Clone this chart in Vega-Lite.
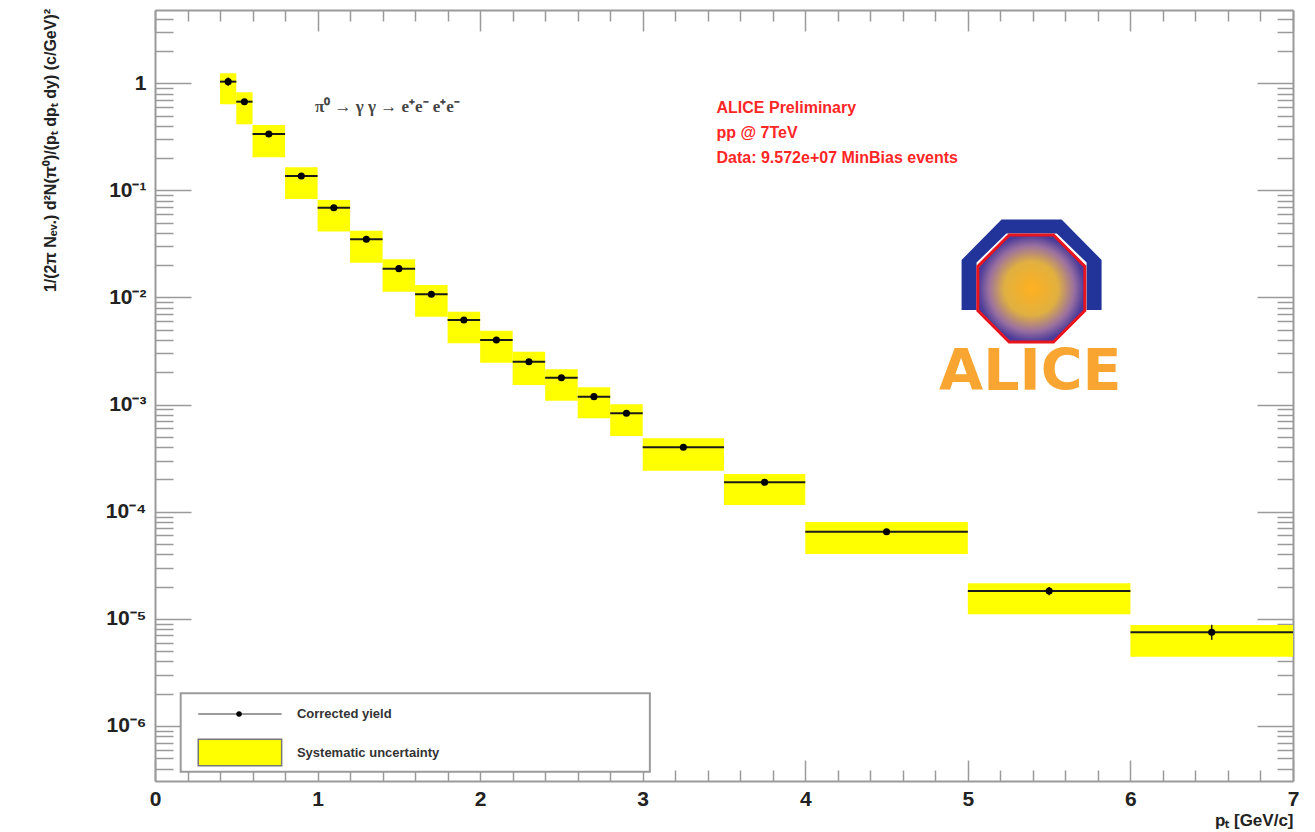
{
  "$schema": "https://vega.github.io/schema/vega-lite/v6.json",
  "width": 1138,
  "height": 771,
  "autosize": {"type": "none"},
  "padding": {"left": 155, "top": 10, "right": 22, "bottom": 51},
  "background": "white",
  "config": {"view": {"stroke": null}},
  "datasets": {
    "yield": [
      {"pt": 0.45, "lo": 0.4, "hi": 0.5, "val": 1.035, "sysLo": 0.637, "sysHi": 1.24, "statLo": 0.95, "statHi": 1.13},
      {"pt": 0.55, "lo": 0.5, "hi": 0.6, "val": 0.673, "sysLo": 0.414, "sysHi": 0.824, "statLo": 0.645, "statHi": 0.70},
      {"pt": 0.7, "lo": 0.6, "hi": 0.8, "val": 0.336, "sysLo": 0.204, "sysHi": 0.408, "statLo": 0.325, "statHi": 0.347},
      {"pt": 0.9, "lo": 0.8, "hi": 1.0, "val": 0.1363, "sysLo": 0.0832, "sysHi": 0.1643, "statLo": 0.132, "statHi": 0.141},
      {"pt": 1.1, "lo": 1.0, "hi": 1.2, "val": 0.0689, "sysLo": 0.0412, "sysHi": 0.0813, "statLo": 0.0667, "statHi": 0.0711},
      {"pt": 1.3, "lo": 1.2, "hi": 1.4, "val": 0.03495, "sysLo": 0.02113, "sysHi": 0.04205, "statLo": 0.0338, "statHi": 0.0361},
      {"pt": 1.5, "lo": 1.4, "hi": 1.6, "val": 0.01858, "sysLo": 0.01133, "sysHi": 0.02274, "statLo": 0.01795, "statHi": 0.01921},
      {"pt": 1.7, "lo": 1.6, "hi": 1.8, "val": 0.01071, "sysLo": 0.00662, "sysHi": 0.01308, "statLo": 0.01035, "statHi": 0.01107},
      {"pt": 1.9, "lo": 1.8, "hi": 2.0, "val": 0.006166, "sysLo": 0.003736, "sysHi": 0.007368, "statLo": 0.00596, "statHi": 0.00638},
      {"pt": 2.1, "lo": 2.0, "hi": 2.2, "val": 0.00401, "sysLo": 0.002461, "sysHi": 0.004898, "statLo": 0.003875, "statHi": 0.004145},
      {"pt": 2.3, "lo": 2.2, "hi": 2.4, "val": 0.002515, "sysLo": 0.001524, "sysHi": 0.003119, "statLo": 0.00243, "statHi": 0.0026},
      {"pt": 2.5, "lo": 2.4, "hi": 2.6, "val": 0.001783, "sysLo": 0.001087, "sysHi": 0.002136, "statLo": 0.001723, "statHi": 0.001843},
      {"pt": 2.7, "lo": 2.6, "hi": 2.8, "val": 0.001186, "sysLo": 0.000745, "sysHi": 0.00145, "statLo": 0.001146, "statHi": 0.001226},
      {"pt": 2.9, "lo": 2.8, "hi": 3.0, "val": 0.000829, "sysLo": 0.000509, "sysHi": 0.001006, "statLo": 0.000801, "statHi": 0.000857},
      {"pt": 3.25, "lo": 3.0, "hi": 3.5, "val": 0.000399, "sysLo": 0.000241, "sysHi": 0.000484, "statLo": 0.000386, "statHi": 0.000412},
      {"pt": 3.75, "lo": 3.5, "hi": 4.0, "val": 0.000188, "sysLo": 0.0001155, "sysHi": 0.000225, "statLo": 0.000181, "statHi": 0.000195},
      {"pt": 4.5, "lo": 4.0, "hi": 5.0, "val": 0.00006505, "sysLo": 0.00004027, "sysHi": 0.00008012, "statLo": 0.0000626, "statHi": 0.0000675},
      {"pt": 5.5, "lo": 5.0, "hi": 6.0, "val": 0.00001818, "sysLo": 0.00001101, "sysHi": 0.00002146, "statLo": 0.0000166, "statHi": 0.0000198},
      {"pt": 6.5, "lo": 6.0, "hi": 7.0, "val": 0.00000748, "sysLo": 0.00000443, "sysHi": 0.00000875, "statLo": 0.00000636, "statHi": 0.00000879}
    ]
  },
  "layer": [
    {
      "data": {"name": "yield"},
      "mark": {"type": "rect", "fill": "#ffff00", "strokeWidth": 0},
      "encoding": {
        "x": {
          "field": "lo", "type": "quantitative",
          "scale": {"domain": [0, 7], "nice": false, "zero": false},
          "axis": {
            "orient": "bottom",
            "values": [0, 0.2, 0.4, 0.6, 0.8, 1, 1.2, 1.4, 1.6, 1.8, 2, 2.2, 2.4, 2.6, 2.8, 3, 3.2, 3.4, 3.6, 3.8, 4, 4.2, 4.4, 4.6, 4.8, 5, 5.2, 5.4, 5.6, 5.8, 6, 6.2, 6.4, 6.6, 6.8, 7],
            "grid": false,
            "labelExpr": "abs(datum.value - round(datum.value)) < 1e-6 ? format(datum.value, 'd') : ''",
            "labelFont": "Liberation Sans", "labelFontSize": 21, "labelFontWeight": "bold", "labelColor": "#222",
            "labelFlush": false, "labelOverlap": false, "labelPadding": 28, "labelBaseline": "top",
            "tickSize": {"condition": {"test": "abs(datum.value - round(datum.value)) < 1e-6", "value": -21}, "value": -11},
            "tickColor": "#9a9a9a", "tickWidth": 1.5, "domainColor": "#9a9a9a", "domainWidth": 2,
            "title": "pₜ [GeV/c]", "titleX": 1138, "titleY": 44, "titleAlign": "right", "titleBaseline": "alphabetic",
            "titleFont": "Liberation Sans", "titleFontSize": 17, "titleFontWeight": "bold", "titleColor": "#222"
          }
        },
        "x2": {"field": "hi"},
        "y": {
          "field": "sysLo", "type": "quantitative",
          "scale": {"type": "log", "domain": [3.06e-7, 4.83], "nice": false},
          "axis": {
            "orient": "left",
            "values": [4e-7, 5e-7, 6e-7, 7e-7, 8e-7, 9e-7, 1e-6, 2e-6, 3e-6, 4e-6, 5e-6, 6e-6, 7e-6, 8e-6, 9e-6, 1e-5, 2e-5, 3e-5, 4e-5, 5e-5, 6e-5, 7e-5, 8e-5, 9e-5, 0.0001, 0.0002, 0.0003, 0.0004, 0.0005, 0.0006, 0.0007, 0.0008, 0.0009, 0.001, 0.002, 0.003, 0.004, 0.005, 0.006, 0.007, 0.008, 0.009, 0.01, 0.02, 0.03, 0.04, 0.05, 0.06, 0.07, 0.08, 0.09, 0.1, 0.2, 0.3, 0.4, 0.5, 0.6, 0.7, 0.8, 0.9, 1, 2, 3, 4],
            "grid": false,
            "labelExpr": "abs(log(datum.value)/LN10 - round(log(datum.value)/LN10)) < 1e-6 ? (round(log(datum.value)/LN10) == 0 ? '1' : '10' + ['', '⁻¹', '⁻²', '⁻³', '⁻⁴', '⁻⁵', '⁻⁶', '⁻⁷'][-round(log(datum.value)/LN10)]) : ''",
            "labelFont": "Liberation Sans", "labelFontSize": 21, "labelFontWeight": "bold", "labelColor": "#222",
            "labelFlush": false, "labelOverlap": false, "labelPadding": 45, "labelBaseline": "middle",
            "tickSize": {"condition": {"test": "abs(log(datum.value)/LN10 - round(log(datum.value)/LN10)) < 1e-6", "value": -36}, "value": -18},
            "tickColor": "#9a9a9a", "tickWidth": 1.5, "domainColor": "#9a9a9a", "domainWidth": 2,
            "title": "1/(2π Nₑᵥ.)  d²N(π⁰)/(pₜ dpₜ dy)  (c/GeV)²",
            "titleX": -105, "titleY": 140, "titleAngle": -90, "titleAlign": "center", "titleBaseline": "middle",
            "titleFont": "Liberation Sans", "titleFontSize": 16, "titleFontWeight": "bold", "titleColor": "#222"
          }
        },
        "y2": {"field": "sysHi"}
      }
    },
    {
      "data": {"name": "yield"},
      "mark": {"type": "rule", "color": "#1a1a1a", "strokeWidth": 2},
      "encoding": {
        "x": {
          "field": "lo", "type": "quantitative",
          "axis": {
            "orient": "top",
            "values": [0, 0.2, 0.4, 0.6, 0.8, 1, 1.2, 1.4, 1.6, 1.8, 2, 2.2, 2.4, 2.6, 2.8, 3, 3.2, 3.4, 3.6, 3.8, 4, 4.2, 4.4, 4.6, 4.8, 5, 5.2, 5.4, 5.6, 5.8, 6, 6.2, 6.4, 6.6, 6.8, 7],
            "grid": false, "labels": false, "title": null,
            "tickSize": {"condition": {"test": "abs(datum.value - round(datum.value)) < 1e-6", "value": -21}, "value": -11},
            "tickColor": "#9a9a9a", "tickWidth": 1.5, "domainColor": "#9a9a9a", "domainWidth": 2
          }
        },
        "x2": {"field": "hi"},
        "y": {
          "field": "val", "type": "quantitative",
          "axis": {
            "orient": "right",
            "values": [4e-7, 5e-7, 6e-7, 7e-7, 8e-7, 9e-7, 1e-6, 2e-6, 3e-6, 4e-6, 5e-6, 6e-6, 7e-6, 8e-6, 9e-6, 1e-5, 2e-5, 3e-5, 4e-5, 5e-5, 6e-5, 7e-5, 8e-5, 9e-5, 0.0001, 0.0002, 0.0003, 0.0004, 0.0005, 0.0006, 0.0007, 0.0008, 0.0009, 0.001, 0.002, 0.003, 0.004, 0.005, 0.006, 0.007, 0.008, 0.009, 0.01, 0.02, 0.03, 0.04, 0.05, 0.06, 0.07, 0.08, 0.09, 0.1, 0.2, 0.3, 0.4, 0.5, 0.6, 0.7, 0.8, 0.9, 1, 2, 3, 4],
            "grid": false, "labels": false, "title": null,
            "tickSize": {"condition": {"test": "abs(log(datum.value)/LN10 - round(log(datum.value)/LN10)) < 1e-6", "value": -36}, "value": -16},
            "tickColor": "#9a9a9a", "tickWidth": 1.5, "domainColor": "#9a9a9a", "domainWidth": 2
          }
        }
      }
    },
    {
      "data": {"name": "yield"},
      "mark": {"type": "rule", "color": "#1a1a1a", "strokeWidth": 1.5},
      "encoding": {
        "x": {"field": "pt", "type": "quantitative", "axis": null},
        "y": {"field": "statLo", "type": "quantitative", "axis": null},
        "y2": {"field": "statHi"}
      }
    },
    {
      "data": {"name": "yield"},
      "mark": {"type": "point", "shape": "circle", "filled": true, "color": "#000000", "size": 50, "opacity": 1},
      "encoding": {
        "x": {"field": "pt", "type": "quantitative", "axis": null},
        "y": {"field": "val", "type": "quantitative", "axis": null}
      }
    },
    {
      "data": {"values": [{"t": "π⁰ → γ γ → e⁺e⁻    e⁺e⁻"}]},
      "mark": {"type": "text", "align": "left", "baseline": "middle", "font": "Liberation Serif", "fontSize": 17, "fontWeight": "bold", "color": "#444444"},
      "encoding": {
        "x": {"datum": 0.984, "type": "quantitative", "axis": null},
        "y": {"datum": 0.6045, "type": "quantitative", "axis": null},
        "text": {"field": "t"}
      }
    },
    {
      "data": {"values": [{"t": "ALICE Preliminary\npp @ 7TeV\nData: 9.572e+07 MinBias events"}]},
      "mark": {"type": "text", "align": "left", "baseline": "middle", "lineBreak": "\n", "lineHeight": 25, "font": "Liberation Sans", "fontSize": 16, "fontWeight": "bold", "color": "#ff2626"},
      "encoding": {
        "x": {"datum": 3.454, "type": "quantitative", "axis": null},
        "y": {"datum": 0.584, "type": "quantitative", "axis": null},
        "text": {"field": "t"}
      }
    },
    {
      "data": {"values": [{"part": "arch"}]},
      "mark": {"type": "point", "filled": true, "color": "#22349a", "opacity": 1, "size": 19600,
        "shape": "M-1,0.647 L-1,-0.067 L-0.429,-0.647 L0.429,-0.647 L1,-0.067 L1,0.647 L0.786,0.647 L0.786,-0.03 L0.36,-0.447 L-0.36,-0.447 L-0.786,-0.03 L-0.786,0.647 Z"},
      "encoding": {
        "x": {"datum": 5.392, "type": "quantitative", "axis": null},
        "y": {"datum": 0.02024, "type": "quantitative", "axis": null}
      }
    },
    {
      "data": {"values": [{"part": "octagon"}]},
      "mark": {"type": "point", "filled": true, "opacity": 1, "size": 11449, "strokeWidth": 3, "stroke": "#e8141e",
        "fill": {"gradient": "radial", "stops": [{"offset": 0, "color": "#ffb020"}, {"offset": 0.5, "color": "#e0b040"}, {"offset": 0.8, "color": "#9a70a0"}, {"offset": 1, "color": "#4a3a9a"}]},
        "shape": "M-0.414,-1 L0.414,-1 L1,-0.414 L1,0.414 L0.414,1 L-0.414,1 L-1,0.414 L-1,-0.414 Z"},
      "encoding": {
        "x": {"datum": 5.3905, "type": "quantitative", "axis": null},
        "y": {"datum": 0.01213, "type": "quantitative", "axis": null}
      }
    },
    {
      "data": {"values": [{"t": "ALICE"}]},
      "mark": {"type": "text", "align": "center", "baseline": "middle", "font": "DejaVu Sans", "fontSize": 57, "fontWeight": "bold", "color": "#f8a531"},
      "encoding": {
        "x": {"datum": 5.384, "type": "quantitative", "axis": null},
        "y": {"datum": 0.001972, "type": "quantitative", "axis": null},
        "text": {"field": "t"}
      }
    },
    {
      "data": {"values": [{"part": "legend box"}]},
      "mark": {"type": "rect", "fill": "#ffffff", "stroke": "#9a9a9a", "strokeWidth": 2},
      "encoding": {
        "x": {"datum": 0.158, "type": "quantitative", "axis": null},
        "x2": {"datum": 3.044},
        "y": {"datum": 3.735e-7, "type": "quantitative", "axis": null},
        "y2": {"datum": 2.015e-6}
      }
    },
    {
      "data": {"values": [{"part": "legend line"}]},
      "mark": {"type": "rule", "color": "#9a9a9a", "strokeWidth": 2},
      "encoding": {
        "x": {"datum": 0.266, "type": "quantitative", "axis": null},
        "x2": {"datum": 0.779},
        "y": {"datum": 1.29e-6, "type": "quantitative", "axis": null}
      }
    },
    {
      "data": {"values": [{"part": "legend dot"}]},
      "mark": {"type": "point", "shape": "circle", "filled": true, "color": "#000000", "size": 30, "opacity": 1},
      "encoding": {
        "x": {"datum": 0.517, "type": "quantitative", "axis": null},
        "y": {"datum": 1.29e-6, "type": "quantitative", "axis": null}
      }
    },
    {
      "data": {"values": [{"part": "legend swatch"}]},
      "mark": {"type": "rect", "fill": "#ffff00", "stroke": "#777777", "strokeWidth": 1.5},
      "encoding": {
        "x": {"datum": 0.266, "type": "quantitative", "axis": null},
        "x2": {"datum": 0.779},
        "y": {"datum": 4.25e-7, "type": "quantitative", "axis": null},
        "y2": {"datum": 7.5e-7}
      }
    },
    {
      "data": {"values": [{"t": "Corrected yield"}]},
      "mark": {"type": "text", "align": "left", "baseline": "middle", "font": "Liberation Sans", "fontSize": 13, "fontWeight": "bold", "color": "#333333"},
      "encoding": {
        "x": {"datum": 0.873, "type": "quantitative", "axis": null},
        "y": {"datum": 1.29e-6, "type": "quantitative", "axis": null},
        "text": {"field": "t"}
      }
    },
    {
      "data": {"values": [{"t": "Systematic uncertainty"}]},
      "mark": {"type": "text", "align": "left", "baseline": "middle", "font": "Liberation Sans", "fontSize": 13, "fontWeight": "bold", "color": "#333333"},
      "encoding": {
        "x": {"datum": 0.873, "type": "quantitative", "axis": null},
        "y": {"datum": 5.62e-7, "type": "quantitative", "axis": null},
        "text": {"field": "t"}
      }
    }
  ]
}
